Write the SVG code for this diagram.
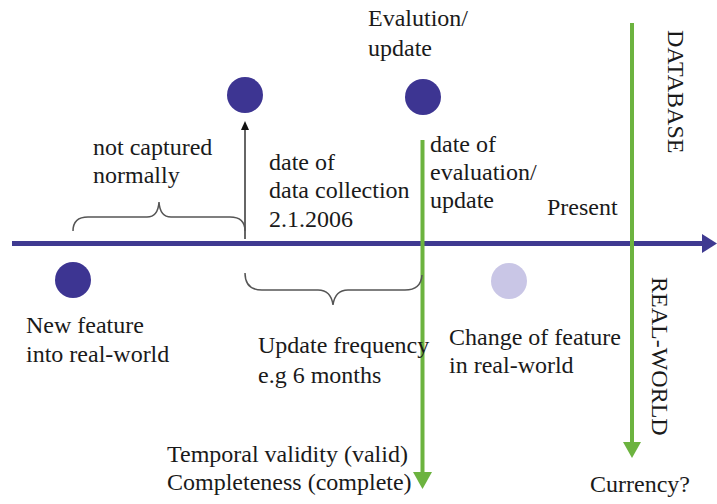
<svg xmlns="http://www.w3.org/2000/svg" width="717" height="504" viewBox="0 0 717 504">
<style>
text{font-family:"Liberation Serif","Times New Roman",serif;font-size:24px;fill:#1a1a1a}
.dot{fill:#3d3592}
.dotl{fill:#c9c6e6}
.brace{fill:none;stroke:#555;stroke-width:1.5}
.green{stroke:#6cb33f;stroke-width:4;fill:none}
</style>
<defs>
<marker id="ga" viewBox="0 0 20 17" refX="10" refY="17" markerUnits="userSpaceOnUse" markerWidth="20" markerHeight="17" orient="auto-start-reverse">
<path d="M0,0 L20,0 L10,17 Z" fill="#6cb33f"/>
</marker>
</defs>
<rect width="717" height="504" fill="#fff"/>
<g id="connectors">
<line x1="12" y1="243.5" x2="703" y2="243.5" stroke="#3f3a91" stroke-width="5"/>
<path d="M702,234 L717,243.5 L702,253 Z" fill="#3f3a91"/>
<line x1="245" y1="239" x2="245" y2="128" stroke="#333" stroke-width="1.5"/>
<path d="M241,130 L245,121 L249,130 Z" fill="#111"/>
<path class="green" d="M422.5,140 V474"/>
<path d="M413,472 L432,472 L422.5,489 Z" fill="#6cb33f"/>
<path class="green" d="M632,23 V444"/>
<path d="M623,442 L641,442 L632,458 Z" fill="#6cb33f"/>
<path class="brace" d="M73,231 Q73,217 88,217 L147,217 Q158,217 159,202 Q160,217 171,217 L230,217 Q245,217 245,231"/>
<path class="brace" d="M245,273 Q245,290 262,290 L318,290 Q331,290 333,305 Q335,290 348,290 L405,290 Q421,290 422,275"/>
</g>
<g id="n-capture"><circle class="dot" cx="245" cy="95" r="18"/></g>
<g id="n-eval"><circle class="dot" cx="423" cy="97" r="18"/></g>
<g id="n-new"><circle class="dot" cx="73" cy="280" r="18"/></g>
<g id="n-change"><circle class="dotl" cx="509" cy="281" r="18"/></g>
<g id="labels">
<text x="93" y="155">not captured</text>
<text x="93" y="183">normally</text>
<text x="269" y="170">date of</text>
<text x="269" y="198">data collection</text>
<text x="269" y="227">2.1.2006</text>
<text x="368" y="26">Evalution/</text>
<text x="368" y="56">update</text>
<text x="430" y="152">date of</text>
<text x="430" y="180">evaluation/</text>
<text x="430" y="208">update</text>
<text x="547" y="215">Present</text>
<text transform="translate(668,30) rotate(90)">DATABASE</text>
<text transform="translate(652,277) rotate(90)">REAL-WORLD</text>
<text x="26" y="333">New feature</text>
<text x="26" y="362">into real-world</text>
<text x="258" y="353">Update frequency</text>
<text x="258" y="383">e.g 6 months</text>
<text x="449" y="345">Change of feature</text>
<text x="449" y="373">in real-world</text>
<text x="167" y="462">Temporal validity (valid)</text>
<text x="167" y="490">Completeness (complete)</text>
<text x="590" y="492">Currency?</text>
</g>
</svg>
